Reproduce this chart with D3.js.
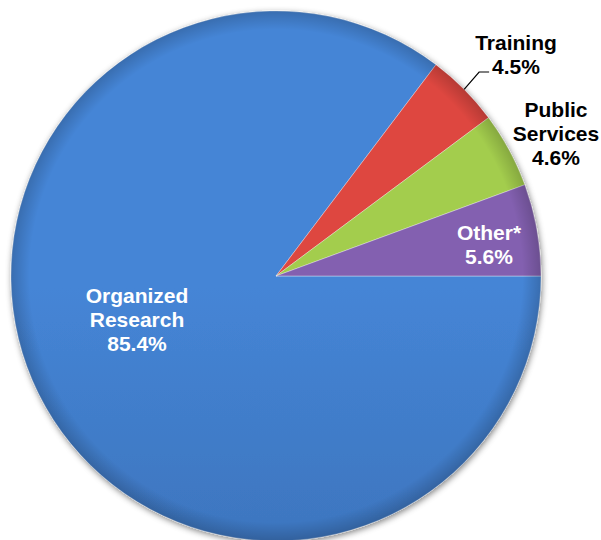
<!DOCTYPE html>
<html>
<head>
<meta charset="utf-8">
<script src="https://cdn.jsdelivr.net/npm/d3@7"></script>
<style>
  body { margin: 0; background: #fff; }
  text { font-family: "Liberation Sans", Arial, sans-serif; font-weight: bold; }
</style>
</head>
<body>
<div class="piechart"></div>
<script>
var svgWidth = 601;
var svgHeight = 540;

// data, drawn clockwise from 3 o'clock
var categories = ["Organized Research", "Training", "Public Services", "Other*"];
var shares = [85.4, 4.5, 4.6, 5.6];
var labelLines = [["Organized", "Research", "85.4%"], ["Training", "4.5%"], ["Public", "Services", "4.6%"], ["Other*", "5.6%"]];

var colorsTop = ["#4585d6", "#de4641", "#a3cd4d", "#8360b0"];
var colorsBottom = ["#3565a6", "#c8352f", "#8cb53a", "#6d4697"];

var cx = 276, cy = 276, radius = 265;

var svg = d3.select(".piechart")
  .append("svg")
  .attr("width", svgWidth)
  .attr("height", svgHeight);

var defs = svg.append("defs");

// soft shadow under the pie
var shadow = defs.append("filter").attr("id", "shadow")
  .attr("x", "-10%").attr("y", "-10%").attr("width", "120%").attr("height", "120%");
shadow.append("feGaussianBlur").attr("in", "SourceAlpha").attr("stdDeviation", 3);
shadow.append("feOffset").attr("dx", 1).attr("dy", 2).attr("result", "blur");
shadow.append("feFlood").attr("flood-color", "#000").attr("flood-opacity", 0.5);
shadow.append("feComposite").attr("in2", "blur").attr("operator", "in");
var merge = shadow.append("feMerge");
merge.append("feMergeNode");
merge.append("feMergeNode").attr("in", "SourceGraphic");

categories.forEach(function(c, i) {
  var g = defs.append("linearGradient")
    .attr("id", "grad" + i)
    .attr("gradientUnits", "userSpaceOnUse")
    .attr("x1", 0).attr("y1", cy - radius)
    .attr("x2", 0).attr("y2", cy + radius);
  g.append("stop").attr("offset", "0%").attr("stop-color", colorsTop[i]);
  g.append("stop").attr("offset", "100%").attr("stop-color", colorsBottom[i]);
});

// darker rim, like a bevel
var rim = defs.append("radialGradient")
  .attr("id", "rim")
  .attr("gradientUnits", "userSpaceOnUse")
  .attr("cx", cx).attr("cy", cy).attr("r", radius);
rim.append("stop").attr("offset", "93%").attr("stop-color", "#000").attr("stop-opacity", 0);
rim.append("stop").attr("offset", "100%").attr("stop-color", "#000").attr("stop-opacity", 0.18);

var chartGroup = svg.append("g")
  .attr("transform", `translate(${cx}, ${cy})`);

var pie = d3.pie()
  .sort(null)
  .value(d => d)
  .startAngle(Math.PI / 2)
  .endAngle(Math.PI / 2 + 2 * Math.PI);

var arcs = pie(shares);

var arc = d3.arc()
  .innerRadius(0)
  .outerRadius(radius);

chartGroup.append("g")
  .attr("filter", "url(#shadow)")
  .selectAll("path")
  .data(arcs)
  .enter()
  .append("path")
  .attr("d", arc)
  .attr("fill", (d, i) => `url(#grad${i})`)
  .attr("stroke", "rgba(255,255,255,0.35)")
  .attr("stroke-width", 1);

svg.append("circle")
  .attr("cx", cx)
  .attr("cy", cy)
  .attr("r", radius)
  .attr("fill", "url(#rim)");

// label positions, relative to the pie
var labelPos = [
  { x: -139, y: 27, color: "#fff" },
  { x: 240, y: -226, color: "#000" },
  { x: 280, y: -159, color: "#000" },
  { x: 213, y: -36, color: "#fff" }
];
var lineHeight = 24;

var labels = chartGroup.selectAll(".slice-label")
  .data(labelLines)
  .enter()
  .append("text")
  .attr("class", "slice-label")
  .attr("text-anchor", "middle")
  .attr("font-size", 21)
  .attr("fill", (d, i) => labelPos[i].color)
  .attr("x", (d, i) => labelPos[i].x)
  .attr("y", (d, i) => labelPos[i].y);

labels.each(function(lines, i) {
  var t = d3.select(this);
  lines.forEach(function(line, j) {
    t.append("tspan")
      .attr("x", labelPos[i].x)
      .attr("dy", j === 0 ? 0 : lineHeight)
      .text(line);
  });
});

// leader line for Training
var mid = (arcs[1].startAngle + arcs[1].endAngle) / 2;
var p0 = [Math.sin(mid) * radius, -Math.cos(mid) * radius];
chartGroup.append("polyline")
  .attr("points", [p0, [p0[0] + 15, -204], [p0[0] + 25, -204]].map(p => p.join(",")).join(" "))
  .attr("fill", "none")
  .attr("stroke", "#000")
  .attr("stroke-width", 1.2);
</script>
</body>
</html>
